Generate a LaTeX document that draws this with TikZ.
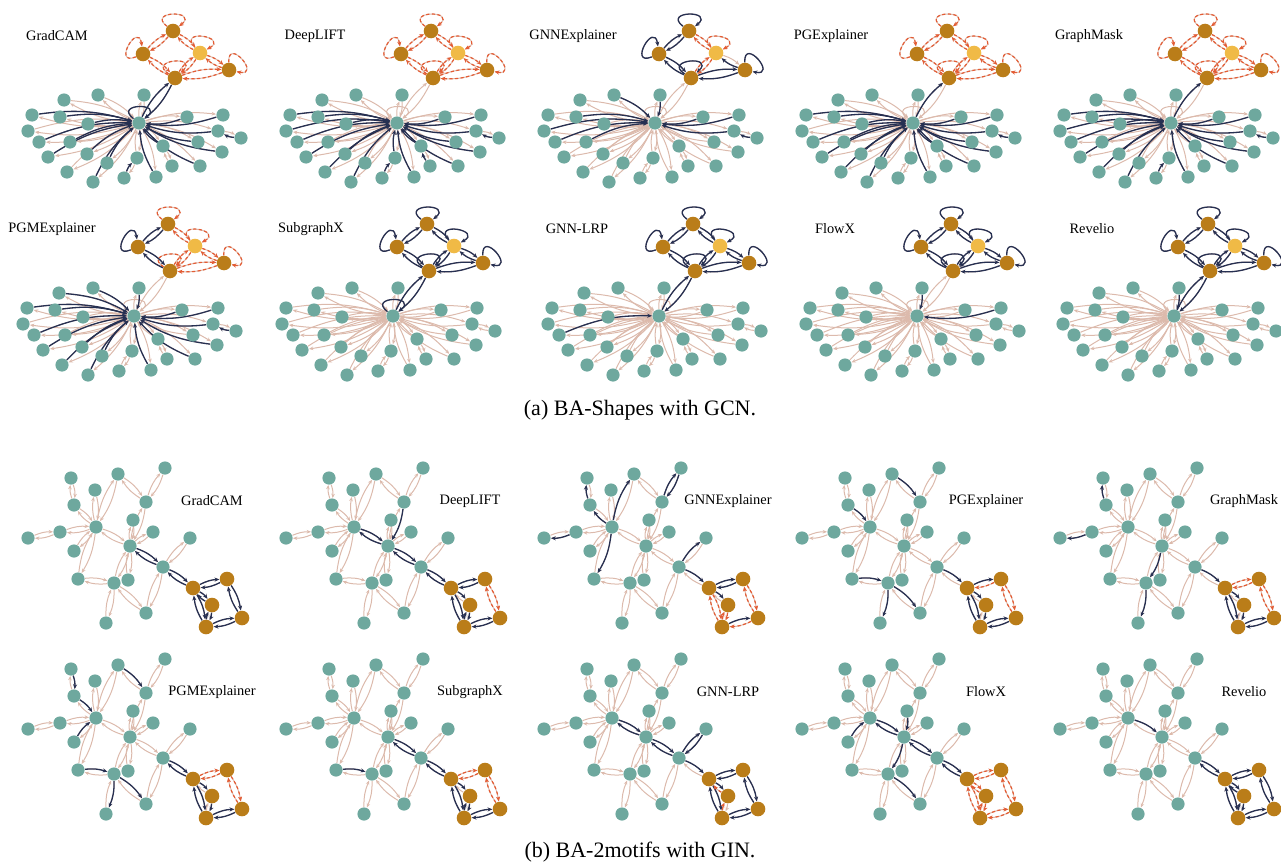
\documentclass[tikz,border=0pt]{standalone}
\usepackage{fontspec}
\setmainfont{Liberation Serif}
\usetikzlibrary{arrows.meta,backgrounds}

\definecolor{leafteal}{RGB}{110,168,158}
\definecolor{motifbrown}{RGB}{186,125,25}
\definecolor{motifgold}{RGB}{240,186,70}
\definecolor{edgenavy}{RGB}{38,48,82}
\definecolor{edgepale}{RGB}{220,186,172}
\definecolor{edgered}{RGB}{228,92,52}

% loop directions of the BA-Shapes nodes
\def\lpangh{90}\def\lpangt{90}\def\lpangl{150}\def\lpangy{80}\def\lpangr{40}\def\lpangb{95}

\def\shapesbase{1/h,2/h,3/h,4/h,5/h,6/h,7/h,8/h,9/h,10/h,11/h,12/h,13/12,14/h,15/h,16/h,17/h,18/h,19/h,20/h,21/h,22/15,23/h,24/h,25/18,26/h,b/h,t/l,t/y,l/b,y/b,y/r,r/b,h/h,t/t,l/l,y/y,r/r,b/b}
\def\motifall{t/l,l/t,t/y,y/t,l/b,b/l,y/b,b/y,y/r,r/y,r/b,b/r,t/t,l/l,y/y,r/r,b/b}
\def\motifsbase{1/5,4/8,5/8,2/8,2/6,3/6,6/13,7/13,11/13,9/8,10/9,14/8,8/13,8/16,16/17,13/17,13/18,17/25,13/15,12/15,15/24,17/24,15/19,19/20,19/21,21/23,20/22,22/23,19/23}
\def\houseall{19/20,20/19,19/21,21/19,21/23,23/21,20/22,22/20,22/23,23/22,19/23,23/19}

\newcommand{\drawloop}[3]{%
 \pgfmathtruncatemacro\lpout{\csname lpang#3\endcsname+52}%
 \pgfmathtruncatemacro\lpin{\csname lpang#3\endcsname-52}%
 \draw[#1] (#2#3) to[out=\lpout,in=\lpin,min distance=13pt] (#2#3);}

\newcommand{\linkall}[3]{%
 \edef\linklist{#3}%
 \ifx\linklist\empty\else
 \foreach \u/\v in \linklist{%
  \ifx\u\v \drawloop{#1}{#2}{\u}%
  \else \draw[#1] (#2\u) to[bend left=12] (#2\v);\fi}%
 \fi}

\newcommand{\linkpair}[3]{%
 \edef\linklist{#3}%
 \foreach \u/\v in \linklist{%
  \ifx\u\v \drawloop{#1}{#2}{\u}%
  \else
   \draw[#1] (#2\u) to[bend left=12] (#2\v);
   \draw[#1] (#2\v) to[bend left=12] (#2\u);
  \fi}}

\newcommand{\shapespanel}[5]{% prefix, hub, label, navy links, dashed links
 \begin{scope}[shift={#2}]
  \node[leaf] (#1h) at (0,0) {};
  \foreach \n/\x/\y in {1/-75/-23,2/-41/-28,3/5/-28,4/-107/-8,5/-79/-6,6/-51/1,7/48/-6,8/84/-8,9/-111/8,10/-100/19,11/-69/19,12/79/8,13/102/15,14/59/19,15/24/23,16/-91/34,17/-52/31,18/-2/35,19/-32/40,20/83/29,21/-72/49,22/33/43,23/61/43,24/-46/59,25/-15/55,26/17/54}
   \node[leaf] (#1\n) at (\x,\y) {};
  \foreach \n/\x/\y in {t/34/-92,l/4/-69,r/90/-53,b/36/-45}
   \node[motif] (#1\n) at (\x,\y) {};
  \node[motif,fill=motifgold] (#1y) at (61,-70) {};
  \node[tag] (#1tag) at (-82,-87) {#3};
  \begin{pgfonlayer}{background}
   \linkpair{pale}{#1}{\shapesbase}
   \linkall{dark}{#1}{#4}
   \linkall{dashlink}{#1}{#5}
  \end{pgfonlayer}
 \end{scope}}

\newcommand{\motifspanel}[5]{% prefix, shift, label, navy links, dashed links
 \begin{scope}[shift={#2}]
  \foreach \n/\x/\y in {1/71/478,2/118/474,3/165/468,4/95/490,5/74/505,6/146/502,7/133/520,8/96/527,9/60/532,10/28/538,11/153/532,12/190/538,13/130/546,14/74/551,15/163/567,16/78/579,17/114/583,18/128/580,24/146/613,25/106/623}
   \node[leaf] (#1\n) at (\x,\y) {};
  \foreach \n/\x/\y in {19/193/588,20/227/579,21/212/605,22/242/618,23/206/627}
   \node[motif] (#1\n) at (\x,\y) {};
  \node[tag] (#1tag) at (212,501) {#3};
  \begin{pgfonlayer}{background}
   \linkpair{pale}{#1}{\motifsbase}
   \linkall{dark}{#1}{#4}
   \linkall{dashlink}{#1}{#5}
  \end{pgfonlayer}
 \end{scope}}

\begin{document}
\begin{tikzpicture}[x=0.5pt,y=-0.5pt,
 leaf/.style={circle,fill=leafteal,inner sep=0pt,minimum size=6.6pt},
 motif/.style={circle,fill=motifbrown,inner sep=0pt,minimum size=7.3pt},
 tag/.style={font=\fontsize{7.2}{8.6}\selectfont,inner sep=0pt},
 caption/.style={font=\fontsize{11}{13}\selectfont,inner sep=0pt},
 pale/.style={draw=edgepale,line width=0.5pt,-{Stealth[length=2.2pt,width=1.8pt]}},
 dark/.style={draw=edgenavy,line width=0.65pt,-{Stealth[length=2.4pt,width=2pt]}},
 dashlink/.style={draw=edgered,line width=0.6pt,dash pattern=on 1.6pt off 1.2pt,-{Stealth[length=2.4pt,width=2pt]}}]
\useasboundingbox (0,0) rectangle (1281,867);

% (a) BA-Shapes
\shapespanel{sA}{(139,123)}{GradCAM}{4/h,5/h,6/h,10/h,11/h,16/h,17/h,19/h,24/h,25/18,26/h,15/h,7/h,8/h,12/h,13/12,14/h,20/h,23/h,h/b,b/h,h/h}{\motifall}
\shapespanel{sB}{(397,123)}{DeepLIFT}{4/h,5/h,6/h,9/h,10/h,16/h,17/h,21/h,24/h,25/18,18/h,26/h,15/h,22/15,7/h,8/h,12/h,13/12,14/h,20/h,23/h}{\motifall}
\shapespanel{sC}{(655,123)}{GNNExplainer}{2/h,3/h,5/h,9/h,10/h,11/h,7/h,8/h,13/12,12/h,t/t,t/l,l/t,l/l,l/b,b/l,r/y,r/r,r/b,b/r,b/b}{y/y,t/y,y/t,y/b,b/y}
\shapespanel{sD}{(913,123)}{PGExplainer}{4/h,5/h,6/h,10/h,11/h,16/h,17/h,21/h,24/h,26/h,15/h,7/h,8/h,12/h,13/12,14/h,20/h,23/h,19/h,h/b}{\motifall}
\shapespanel{sE}{(1171,123)}{GraphMask}{4/h,5/h,6/h,9/h,10/h,16/h,17/h,21/h,24/h,26/h,25/18,7/h,8/h,12/h,13/12,14/h,20/h,23/h,h/b}{\motifall}
\shapespanel{sF}{(134,316)}{PGMExplainer}{1/h,2/h,4/h,5/h,10/h,16/h,17/h,21/h,24/h,26/h,3/h,7/h,8/h,12/h,13/12,20/h,23/h,19/h,t/l,l/t,l/l,l/b,b/l}{t/t,t/y,y/t,y/y,y/r,r/y,r/r,r/b,b/r,b/b,y/b,b/y}
\shapespanel{sG}{(393,316)}{SubgraphX}{\motifall,h/b,b/h,h/h}{}
\shapespanel{sH}{(659,316)}{GNN-LRP}{\motifall,h/b,b/h,10/h}{}
\shapespanel{sI}{(917,316)}{FlowX}{\motifall,3/h,8/h}{}
\shapespanel{sJ}{(1174,316)}{Revelio}{\motifall,h/b,b/h,3/h}{}
\node[caption] (capa) at (640,410) {(a) BA-Shapes with GCN.};

% (b) BA-2motifs
\motifspanel{mA}{(0,0)}{GradCAM}{13/15,15/13,15/19,19/15,\houseall}{}
\motifspanel{mB}{(258,0)}{DeepLIFT}{6/13,8/13,13/8,13/15,15/13,15/19,19/15,19/20,20/19,19/23,23/19,19/21,21/23,23/21,22/23,23/22}{20/22,22/20}
\motifspanel{mC}{(516,0)}{GNNExplainer}{8/5,5/1,8/2,3/6,6/3,8/16,9/10,15/12,15/19,19/20,20/19,19/21,23/22}{19/23,23/19,20/22,22/20,21/23,23/21,22/23}
\motifspanel{mD}{(774,0)}{PGExplainer}{2/6,5/8,16/17,17/24,17/25,15/19,19/20,19/23,23/19,19/21,21/23,22/23,23/22}{20/19,20/22,22/20}
\motifspanel{mE}{(1032,0)}{GraphMask}{5/1,9/10,13/17,17/25,15/19,19/23,23/19,19/21,21/23,22/23,23/22}{19/20,20/19,20/22,22/20}
\motifspanel{mF}{(0,191)}{PGMExplainer}{1/5,5/8,2/6,14/8,16/17,17/25,17/24,15/19,19/15,19/23,23/19,19/21,21/23,22/23,23/22}{19/20,20/19,20/22,22/20}
\motifspanel{mG}{(258,191)}{SubgraphX}{13/15,15/13,16/17,15/19,19/15,19/23,23/19,19/21,21/23,23/21,22/23,23/22}{19/20,20/19,20/22,22/20}
\motifspanel{mH}{(516,191)}{GNN-LRP}{8/13,13/8,13/15,15/13,12/15,15/12,15/19,19/20,20/19,19/23,23/19,20/22,22/20,22/23,23/22,19/21}{21/19,23/21}
\motifspanel{mI}{(774,191)}{FlowX}{7/13,8/13,13/8,13/15,15/13,14/8,13/17,17/24,15/19,19/15}{\houseall}
\motifspanel{mJ}{(1032,191)}{Revelio}{8/13,15/19,19/15,\houseall}{}
\node[caption] (capb) at (640,852) {(b) BA-2motifs with GIN.};
\end{tikzpicture}
\end{document}
